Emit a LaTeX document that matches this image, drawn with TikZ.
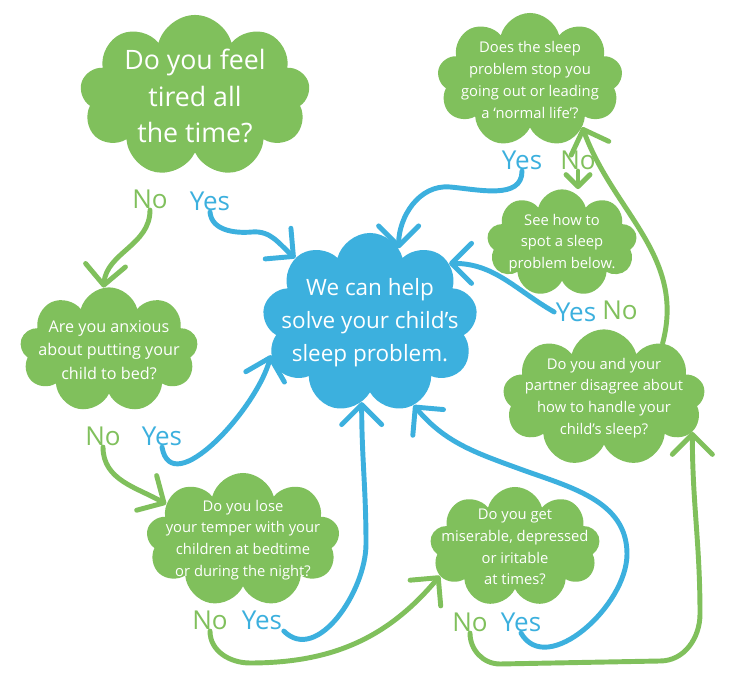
\documentclass[tikz,border=0pt]{standalone}
\usepackage{fontspec}
\setmainfont{Open Sans}
\usetikzlibrary{shapes.symbols, arrows.meta}
\definecolor{qcol}{RGB}{128,192,92}
\definecolor{helpcol}{RGB}{60,176,222}

\begin{document}
\begin{tikzpicture}[
		x=0.025cm, y=0.025cm,
		bubble/.style={
			cloud,
			cloud puffs=9,
			cloud ignores aspect,
			fill=qcol,
			inner sep=0pt
		},
		qtext/.style={
			text=white,
			align=center,
			font=\fontsize{10.5}{15.5}\selectfont
		},
		nolabel/.style={
			text=qcol,
			font=\fontsize{18.5}{20}\selectfont,
			inner sep=1pt
		},
		yeslabel/.style={
			text=helpcol,
			font=\fontsize{18.5}{20}\selectfont,
			inner sep=1pt
		},
		noline/.style={
			draw=qcol,
			line width=3.5pt,
			line cap=round,
			-{Straight Barb[round, length=5mm, width=10mm]}
		},
		yesline/.style={
			draw=helpcol,
			line width=3.5pt,
			line cap=round,
			-{Straight Barb[round, length=5mm, width=10mm]}
		}
	]
	\useasboundingbox[fill=white] (0,0) rectangle (738,684);
	
	% Clouds
	\node[bubble, fill=helpcol, minimum width=5.38cm, minimum height=4.5cm,
		label={[qtext, font=\fontsize{16}{23.5}\selectfont]center:{We can help\\solve your child's\\sleep problem.}}] (help) at (370,361) {};
	\node[bubble, minimum width=5.75cm, minimum height=4.05cm,
		label={[qtext, font=\fontsize{19}{26}\selectfont]center:{Do you feel\\tired all\\the time?}}] (tired) at (195,588) {};
	\node[bubble, minimum width=4.63cm, minimum height=3.35cm,
		label={[qtext]center:{Does the sleep\\problem stop you\\going out or leading\\a `normal life'?}}] (normal) at (530,604) {};
	\node[bubble, minimum width=3.75cm, minimum height=2.68cm,
		label={[qtext]center:{See how to\\spot a sleep\\problem below.}}] (spot) at (562,441) {};
	\node[bubble, minimum width=4.45cm, minimum height=3.13cm,
		label={[qtext, font=\fontsize{11.5}{16.5}\selectfont]center:{Are you anxious\\about putting your\\child to bed?}}] (anxious) at (109,334) {};
	\node[bubble, minimum width=5.05cm, minimum height=3.43cm,
		label={[qtext]center:{Do you and your\\partner disagree about\\how to handle your\\child's sleep?}}] (partner) at (604,286) {};
	\node[bubble, minimum width=4.83cm, minimum height=3.35cm,
		label={[qtext]center:{Do you lose\\your temper with your\\children at bedtime\\or during the night?}}] (temper) at (243,144) {};
	\node[bubble, minimum width=4.25cm, minimum height=3.0cm,
		label={[qtext]center:{Do you get\\miserable, depressed\\or iritable\\at times?}}] (mood) at (515,137) {};
	
	% Answers
	\node[nolabel] (tiredno) at (150,485) {No};
	\node[yeslabel] (tiredyes) at (210,483) {Yes};
	\node[yeslabel] (normalyes) at (522,524) {Yes};
	\node[nolabel] (normalno) at (578,524) {No};
	\node[yeslabel] (partneryes) at (576,372) {Yes};
	\node[nolabel] (partnerno) at (620,374) {No};
	\node[nolabel] (anxiousno) at (103,248) {No};
	\node[yeslabel] (anxiousyes) at (162,248) {Yes};
	\node[nolabel] (temperno) at (210,64) {No};
	\node[yeslabel] (temperyes) at (262,64) {Yes};
	\node[nolabel] (moodno) at (470,62) {No};
	\node[yeslabel] (moodyes) at (521,62) {Yes};
	
	% Yes arrows
	\draw[yesline] (tiredyes.south) to[out=-85,in=185] (252,452) to[out=5,in=140] (help.139);
	\draw[yesline] (normalyes.south) to[out=-90,in=-5] (450,497) to[out=175,in=90] (help.69);
	\draw[yesline] (partneryes.west) to[out=150,in=0] (help.37);
	\draw[yesline] (anxiousyes.south) to[out=-80,in=-105] (help.198);
	\draw[yesline] (temperyes.south east) to[out=-45,in=-90] (366,140) to[out=90,in=-90] (help.264);
	\draw[yesline] (moodyes.south) to[out=-60,in=-90] (627,130) to[out=90,in=-20] (520,215) to[out=160,in=-50] (help.298);
	
	% No arrows
	\draw[noline] (tiredno.south) to[out=-90,in=85] (anxious.95);
	\draw[noline, -{Straight Barb[round, length=3mm, width=6mm]}] (normalno.south) -- (normalno.south |- spot.north);
	\draw[noline] (partner.43) to[out=75,in=-70] (normal.-42);
	\draw[noline] (anxiousno.south) to[out=-90,in=150] (temper.155);
	\draw[noline] (temperno.south) to[out=-90,in=180] (250,21) to[out=0,in=-130] (mood.201);
	\draw[noline] (moodno.south) to[out=-90,in=180] (500,20) -- (660,23) to[out=0,in=-90] (700,70) to[out=90,in=-90] (partner.339);
\end{tikzpicture}
\end{document}
